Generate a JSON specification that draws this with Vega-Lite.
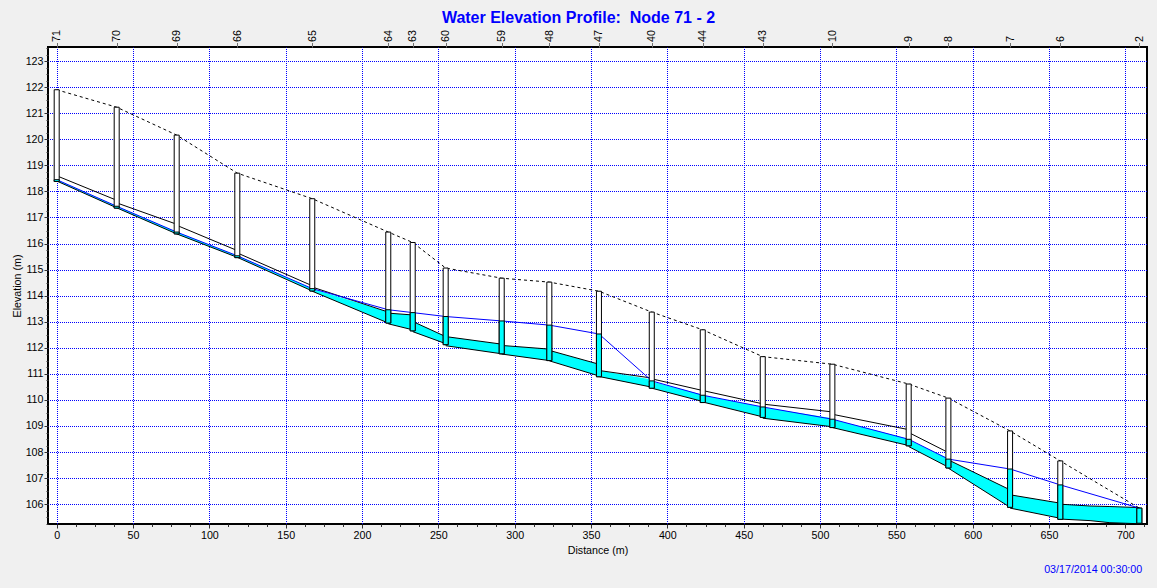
{
  "$schema": "https://vega.github.io/schema/vega-lite/v6.json",
  "width": 1099,
  "height": 477,
  "autosize": {"type": "none"},
  "padding": {"left": 48, "top": 47, "right": 10, "bottom": 64},
  "background": "#F0F0F0",
  "title": {
    "text": "Water Elevation Profile:\u00a0 Node 71 - 2",
    "anchor": "middle",
    "frame": "group",
    "dx": -19,
    "dy": 17,
    "offset": 8,
    "baseline": "alphabetic",
    "font": "Liberation Sans",
    "fontSize": 16,
    "fontWeight": "bold",
    "color": "#0000FF"
  },
  "config": {
    "view": {"fill": "white", "stroke": "black", "strokeWidth": 2},
    "axis": {
      "labelFont": "Liberation Sans",
      "titleFont": "Liberation Sans",
      "labelFontSize": 10.7,
      "titleFontSize": 10.7,
      "titleFontWeight": "normal",
      "labelColor": "black",
      "titleColor": "black",
      "tickColor": "#333333",
      "domain": false,
      "labelFlush": false,
      "labelOverlap": false
    }
  },
  "datasets": {
    "nodes": [
      {"node": "71", "d": 0, "invert": 118.38, "rim": 121.9, "head": 118.45},
      {"node": "70", "d": 39.3, "invert": 117.36, "rim": 121.23, "head": 117.43},
      {"node": "69", "d": 78.6, "invert": 116.37, "rim": 120.16, "head": 116.44},
      {"node": "66", "d": 118.3, "invert": 115.46, "rim": 118.7, "head": 115.53},
      {"node": "65", "d": 167.4, "invert": 114.18, "rim": 117.72, "head": 114.27},
      {"node": "64", "d": 217.2, "invert": 112.95, "rim": 116.44, "head": 113.46},
      {"node": "63", "d": 233.2, "invert": 112.65, "rim": 116.04, "head": 113.35},
      {"node": "60", "d": 254.8, "invert": 112.12, "rim": 115.06, "head": 113.2},
      {"node": "59", "d": 291.5, "invert": 111.77, "rim": 114.67, "head": 113.03},
      {"node": "48", "d": 322.7, "invert": 111.51, "rim": 114.52, "head": 112.87},
      {"node": "47", "d": 355.2, "invert": 110.89, "rim": 114.17, "head": 112.53},
      {"node": "40", "d": 389.8, "invert": 110.45, "rim": 113.37, "head": 110.73},
      {"node": "44", "d": 423.2, "invert": 109.9, "rim": 112.69, "head": 110.18},
      {"node": "43", "d": 462.5, "invert": 109.33, "rim": 111.66, "head": 109.73},
      {"node": "10", "d": 508.1, "invert": 108.94, "rim": 111.37, "head": 109.26},
      {"node": "9", "d": 558.1, "invert": 108.24, "rim": 110.61, "head": 108.49},
      {"node": "8", "d": 584.1, "invert": 107.39, "rim": 110.07, "head": 107.73},
      {"node": "7", "d": 624.5, "invert": 105.88, "rim": 108.81, "head": 107.35},
      {"node": "6", "d": 657.4, "invert": 105.42, "rim": 107.66, "head": 106.74},
      {"node": "2", "d": 709.2, "invert": 105.27, "rim": 105.85, "head": 105.85}
    ],
    "conduits": [
      {"seg": "71-70", "d": 0, "bottom": 118.4, "crown": 118.6, "water": 118.45},
      {"seg": "71-70", "d": 39.3, "bottom": 117.37, "crown": 117.66, "water": 117.43},
      {"seg": "70-69", "d": 39.3, "bottom": 117.37, "crown": 117.56, "water": 117.43},
      {"seg": "70-69", "d": 78.6, "bottom": 116.37, "crown": 116.74, "water": 116.44},
      {"seg": "69-66", "d": 78.6, "bottom": 116.37, "crown": 116.7, "water": 116.44},
      {"seg": "69-66", "d": 118.3, "bottom": 115.47, "crown": 115.73, "water": 115.53},
      {"seg": "66-65", "d": 118.3, "bottom": 115.47, "crown": 115.64, "water": 115.53},
      {"seg": "66-65", "d": 167.4, "bottom": 114.18, "crown": 114.38, "water": 114.27},
      {"seg": "65-64", "d": 167.4, "bottom": 114.17, "crown": 114.33, "water": 114.27},
      {"seg": "65-64", "d": 217.2, "bottom": 112.95, "crown": 113.37, "water": 113.37},
      {"seg": "64-63", "d": 217.2, "bottom": 112.92, "crown": 113.33, "water": 113.33},
      {"seg": "64-63", "d": 233.2, "bottom": 112.69, "crown": 113.26, "water": 113.26},
      {"seg": "63-60", "d": 233.2, "bottom": 112.62, "crown": 113.01, "water": 113.01},
      {"seg": "63-60", "d": 254.8, "bottom": 112.16, "crown": 112.43, "water": 112.43},
      {"seg": "60-59", "d": 254.8, "bottom": 112.08, "crown": 112.43, "water": 112.43},
      {"seg": "60-59", "d": 291.5, "bottom": 111.77, "crown": 112.14, "water": 112.14},
      {"seg": "59-48", "d": 291.5, "bottom": 111.76, "crown": 112.09, "water": 112.09},
      {"seg": "59-48", "d": 322.7, "bottom": 111.51, "crown": 111.95, "water": 111.95},
      {"seg": "48-47", "d": 322.7, "bottom": 111.5, "crown": 111.9, "water": 111.9},
      {"seg": "48-47", "d": 355.2, "bottom": 110.92, "crown": 111.37, "water": 111.37},
      {"seg": "47-40", "d": 355.2, "bottom": 110.9, "crown": 111.13, "water": 111.13},
      {"seg": "47-40", "d": 389.8, "bottom": 110.49, "crown": 110.84, "water": 110.78},
      {"seg": "40-44", "d": 389.8, "bottom": 110.45, "crown": 110.81, "water": 110.71},
      {"seg": "40-44", "d": 423.2, "bottom": 109.94, "crown": 110.36, "water": 110.2},
      {"seg": "44-43", "d": 423.2, "bottom": 109.92, "crown": 110.36, "water": 110.18},
      {"seg": "44-43", "d": 462.5, "bottom": 109.35, "crown": 109.85, "water": 109.73},
      {"seg": "43-10", "d": 462.5, "bottom": 109.3, "crown": 109.84, "water": 109.72},
      {"seg": "43-10", "d": 508.1, "bottom": 108.97, "crown": 109.54, "water": 109.3},
      {"seg": "10-9", "d": 508.1, "bottom": 108.94, "crown": 109.45, "water": 109.26},
      {"seg": "10-9", "d": 558.1, "bottom": 108.25, "crown": 108.86, "water": 108.5},
      {"seg": "9-8", "d": 558.1, "bottom": 108.21, "crown": 108.75, "water": 108.47},
      {"seg": "9-8", "d": 584.1, "bottom": 107.42, "crown": 107.98, "water": 107.75},
      {"seg": "8-7", "d": 584.1, "bottom": 107.38, "crown": 107.7, "water": 107.7},
      {"seg": "8-7", "d": 624.5, "bottom": 105.88, "crown": 106.55, "water": 106.55},
      {"seg": "7-6", "d": 624.5, "bottom": 105.85, "crown": 106.36, "water": 106.36},
      {"seg": "7-6", "d": 657.4, "bottom": 105.46, "crown": 106.04, "water": 106.04},
      {"seg": "6-2", "d": 657.4, "bottom": 105.43, "crown": 106.0, "water": 106.0},
      {"seg": "6-2", "d": 676.9, "bottom": 105.37, "crown": 105.93, "water": 105.93},
      {"seg": "6-2", "d": 689.9, "bottom": 105.29, "crown": 105.91, "water": 105.91},
      {"seg": "6-2", "d": 709.2, "bottom": 105.25, "crown": 105.87, "water": 105.87}
    ]
  },
  "resolve": {"axis": {"x": "independent", "y": "independent"}},
  "layer": [
    {
      "data": {"name": "conduits"},
      "mark": {"type": "area", "color": "#00FFFF"},
      "encoding": {
        "x": {
          "field": "d", "type": "quantitative",
          "scale": {"domain": [-5.7, 714.2], "nice": false, "zero": false, "padding": 0},
          "axis": {
            "orient": "bottom",
            "values": [0, 50, 100, 150, 200, 250, 300, 350, 400, 450, 500, 550, 600, 650, 700],
            "format": "d",
            "grid": true, "gridColor": "#0000FF", "gridDash": [1, 1], "gridDashOffset": 0.5, "gridWidth": 1, "gridOpacity": 1,
            "tickSize": 4, "labelPadding": 2.5,
            "title": "Distance (m)", "titleY": 29.5, "titleBaseline": "alphabetic"
          }
        },
        "y": {
          "field": "bottom", "type": "quantitative", "stack": null,
          "scale": {"domain": [105.24, 123.54], "nice": false, "zero": false},
          "axis": {
            "orient": "left",
            "values": [106, 107, 108, 109, 110, 111, 112, 113, 114, 115, 116, 117, 118, 119, 120, 121, 122, 123],
            "format": "d",
            "grid": true, "gridColor": "#0000FF", "gridDash": [1, 1], "gridDashOffset": 0.5, "gridWidth": 1, "gridOpacity": 1,
            "tickSize": 4, "labelPadding": 1,
            "title": "Elevation (m)", "titleX": -28, "titleAngle": 270, "titleBaseline": "alphabetic"
          }
        },
        "y2": {"field": "water"},
        "detail": {"field": "seg"}
      }
    },
    {
      "data": {"name": "conduits"},
      "mark": {"type": "line", "color": "black", "strokeWidth": 1},
      "encoding": {
        "x": {
          "field": "d", "type": "quantitative",
          "scale": {"domain": [-5.7, 714.2], "nice": false, "zero": false, "padding": 0},
          "axis": {
            "orient": "bottom",
            "values": [12.5, 25, 37.5, 62.5, 75, 87.5, 112.5, 125, 137.5, 162.5, 175, 187.5, 212.5, 225, 237.5, 262.5, 275, 287.5, 312.5, 325, 337.5, 362.5, 375, 387.5, 412.5, 425, 437.5, 462.5, 475, 487.5, 512.5, 525, 537.5, 562.5, 575, 587.5, 612.5, 625, 637.5, 662.5, 675, 687.5, 712.5],
            "labels": false, "grid": false, "tickSize": 2.5,
            "title": "03/17/2014 00:30:00", "titleColor": "#0000FF",
            "titleX": 1093.7, "titleY": 48, "titleAlign": "right", "titleAnchor": "end", "titleBaseline": "alphabetic"
          }
        },
        "y": {
          "field": "crown", "type": "quantitative",
          "scale": {"domain": [105.24, 123.54], "nice": false, "zero": false},
          "axis": {
            "orient": "left",
            "values": [105.25, 105.5, 105.75, 106.25, 106.5, 106.75, 107.25, 107.5, 107.75, 108.25, 108.5, 108.75, 109.25, 109.5, 109.75, 110.25, 110.5, 110.75, 111.25, 111.5, 111.75, 112.25, 112.5, 112.75, 113.25, 113.5, 113.75, 114.25, 114.5, 114.75, 115.25, 115.5, 115.75, 116.25, 116.5, 116.75, 117.25, 117.5, 117.75, 118.25, 118.5, 118.75, 119.25, 119.5, 119.75, 120.25, 120.5, 120.75, 121.25, 121.5, 121.75, 122.25, 122.5, 122.75, 123.25, 123.5],
            "labels": false, "grid": false, "tickSize": 2, "title": null
          }
        },
        "detail": {"field": "seg"}
      }
    },
    {
      "data": {"name": "conduits"},
      "mark": {"type": "line", "color": "black", "strokeWidth": 1},
      "encoding": {
        "x": {"field": "d", "type": "quantitative", "scale": {"domain": [-5.7, 714.2], "nice": false, "zero": false, "padding": 0}, "axis": null},
        "y": {"field": "bottom", "type": "quantitative", "scale": {"domain": [105.24, 123.54], "nice": false, "zero": false}, "axis": null},
        "detail": {"field": "seg"}
      }
    },
    {
      "data": {"name": "nodes"},
      "mark": {"type": "line", "color": "#0000FF", "strokeWidth": 1},
      "encoding": {
        "x": {"field": "d", "type": "quantitative", "scale": {"domain": [-5.7, 714.2], "nice": false, "zero": false, "padding": 0}, "axis": null},
        "y": {"field": "head", "type": "quantitative", "scale": {"domain": [105.24, 123.54], "nice": false, "zero": false}, "axis": null}
      }
    },
    {
      "data": {"name": "nodes"},
      "mark": {"type": "line", "color": "black", "strokeWidth": 1, "strokeDash": [3, 3]},
      "encoding": {
        "x": {"field": "d", "type": "quantitative", "scale": {"domain": [-5.7, 714.2], "nice": false, "zero": false, "padding": 0}, "axis": null},
        "y": {"field": "rim", "type": "quantitative", "scale": {"domain": [105.24, 123.54], "nice": false, "zero": false}, "axis": null}
      }
    },
    {
      "data": {"name": "nodes"},
      "mark": {"type": "bar", "width": 5, "fill": "white", "stroke": "black", "strokeWidth": 1},
      "encoding": {
        "x": {
          "field": "d", "type": "quantitative",
          "scale": {"domain": [-5.7, 714.2], "nice": false, "zero": false, "padding": 0},
          "axis": {
            "orient": "top",
            "values": [0, 39.3, 78.6, 118.3, 167.4, 217.2, 233.2, 254.8, 291.5, 322.7, 355.2, 389.8, 423.2, 462.5, 508.1, 558.1, 584.1, 624.5, 657.4, 709.2],
            "labelExpr": "['71','70','69','66','65','64','63','60','59','48','47','40','44','43','10','9','8','7','6','2'][indexof([0,39.3,78.6,118.3,167.4,217.2,233.2,254.8,291.5,322.7,355.2,389.8,423.2,462.5,508.1,558.1,584.1,624.5,657.4,709.2], datum.value)]",
            "labelAngle": 270, "labelPadding": 1, "tickSize": 4.5, "tickColor": "#707070",
            "grid": false, "title": null
          }
        },
        "y": {"field": "invert", "type": "quantitative", "stack": null, "scale": {"domain": [105.24, 123.54], "nice": false, "zero": false}, "axis": null},
        "y2": {"field": "rim"}
      }
    },
    {
      "data": {"name": "nodes"},
      "mark": {"type": "bar", "width": 5, "fill": "#00FFFF", "stroke": "black", "strokeWidth": 1},
      "encoding": {
        "x": {"field": "d", "type": "quantitative", "scale": {"domain": [-5.7, 714.2], "nice": false, "zero": false, "padding": 0}, "axis": null},
        "y": {"field": "invert", "type": "quantitative", "stack": null, "scale": {"domain": [105.24, 123.54], "nice": false, "zero": false}, "axis": null},
        "y2": {"field": "head"}
      }
    }
  ]
}
